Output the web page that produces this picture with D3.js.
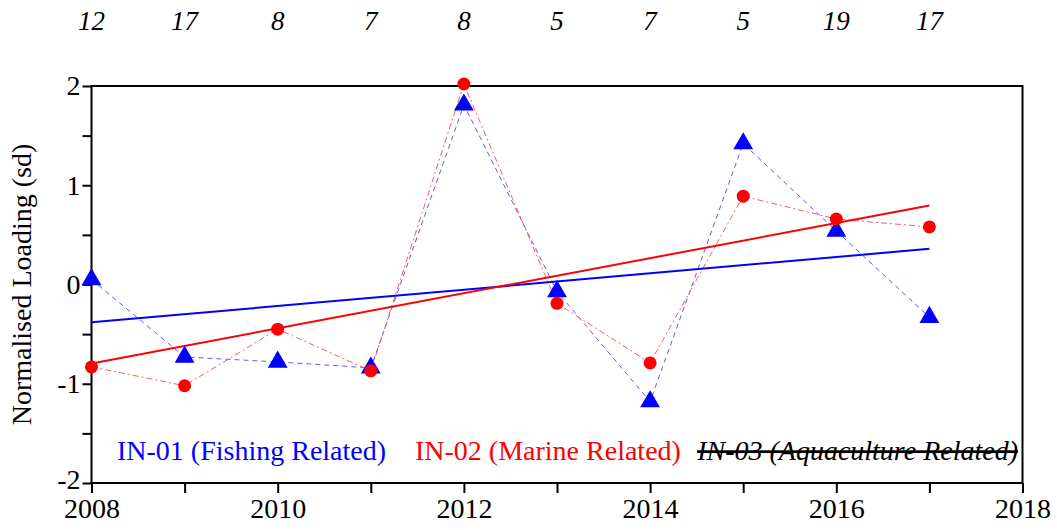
<!DOCTYPE html>
<html><head><meta charset="utf-8">
<script src="https://cdn.jsdelivr.net/npm/d3@7"></script>
<style>body{margin:0;background:#fff}svg{display:block}</style>
</head><body>
<script>
const years = [2008,2009,2010,2011,2012,2013,2014,2015,2016,2017];
const topCounts = ["12","17","8","7","8","5","7","5","19","17"];
const in01 = [0.05,-0.73,-0.78,-0.84,1.81,-0.07,-1.18,1.42,0.54,-0.33];
const in02 = [-0.83,-1.02,-0.45,-0.87,2.02,-0.19,-0.79,0.89,0.66,0.58];
const xTickLabels = [2008,2010,2012,2014,2016,2018];
const yTickLabels = [-2,-1,0,1,2];
const legendLabels = ["IN-01 (Fishing Related)","IN-02 (Marine Related)","IN-03 (Aquaculture Related)"];

const W=1057,H=530;
const L=91.5,R=1022.5,T=86,B=483;
const svg=d3.select("body").append("svg").attr("width",W).attr("height",H);
const x=d3.scaleLinear().domain([2008,2018]).range([L,R]);
const y=d3.scaleLinear().domain([-2,2]).range([B,T]);
const font="'Liberation Serif','Times New Roman',serif";
const FS=28;

// frame
svg.append("rect").attr("x",L).attr("y",T).attr("width",R-L).attr("height",B-T)
  .attr("fill","none").attr("stroke","#000").attr("stroke-width",2);

// y axis
const yAxis=d3.axisLeft(y).tickValues(d3.range(-2,2.01,0.5)).tickSize(9).tickPadding(2)
  .tickFormat(d=>yTickLabels.includes(d)?String(d):"");
const gy=svg.append("g").attr("transform",`translate(${L},0)`).call(yAxis);
gy.select(".domain").remove();
gy.selectAll("line").attr("stroke","#000").attr("stroke-width",2);
gy.selectAll("text").attr("font-family",font).attr("font-size",FS).attr("fill","#000")
  .attr("dy",d=>d===-2?"0.2em":"0.32em");

// x axis
const xAxis=d3.axisBottom(x).tickValues(d3.range(2008,2019,1)).tickSize(10).tickPadding(5)
  .tickFormat(d=>xTickLabels.includes(d)?String(d):"");
const gx=svg.append("g").attr("transform",`translate(0,${B})`).call(xAxis);
gx.select(".domain").remove();
gx.selectAll("line").attr("stroke","#000").attr("stroke-width",2);
gx.selectAll("text").attr("font-family",font).attr("font-size",FS).attr("fill","#000");

// top counts
svg.append("g").selectAll("text").data(years).join("text")
  .attr("x",d=>x(d)).attr("y",30).attr("text-anchor","middle")
  .attr("font-family",font).attr("font-style","italic").attr("font-size",27)
  .text((d,i)=>topCounts[i]);

// y label
svg.append("text").attr("transform",`translate(31,${(T+B)/2}) rotate(-90)`)
  .attr("text-anchor","middle").attr("font-family",font).attr("font-size",FS)
  .text("Normalised Loading (sd)");

// regression
function fit(vals){
  const n=vals.length, mx=d3.mean(years), my=d3.mean(vals);
  let sxy=0,sxx=0; years.forEach((yr,i)=>{sxy+=(yr-mx)*(vals[i]-my);sxx+=(yr-mx)**2;});
  const b=sxy/sxx,a=my-b*mx; return [years[0],years[n-1]].map(v=>[v,a+b*v]);
}
const line=d3.line().x(d=>x(d[0])).y(d=>y(d[1]));
const p1=years.map((d,i)=>[d,in01[i]]), p2=years.map((d,i)=>[d,in02[i]]);

svg.append("path").attr("d",line(p1)).attr("fill","none").attr("stroke","#5a5aff")
  .attr("stroke-width",1).attr("stroke-dasharray","5,4");
svg.append("path").attr("d",line(p2)).attr("fill","none").attr("stroke","#ff5a5a")
  .attr("stroke-width",1).attr("stroke-dasharray","6,3,2,3");

svg.append("path").attr("d",line(fit(in01))).attr("fill","none").attr("stroke","#0000ff").attr("stroke-width",2);
svg.append("path").attr("d",line(fit(in02))).attr("fill","none").attr("stroke","#ff0000").attr("stroke-width",2);

// markers
svg.append("g").selectAll("path").data(p1).join("path")
  .attr("transform",d=>`translate(${x(d[0])},${y(d[1])})`)
  .attr("d",d3.symbol(d3.symbolTriangle,170)).attr("fill","#0000ff");
svg.append("g").selectAll("circle").data(p2).join("circle")
  .attr("cx",d=>x(d[0])).attr("cy",d=>y(d[1])).attr("r",6.5).attr("fill","#ff0000");

// legend texts
const lg=svg.append("g").attr("font-family",font).attr("font-size",FS);
lg.append("text").attr("x",117).attr("y",460).attr("fill","#0000ff").text(legendLabels[0]);
lg.append("text").attr("x",415).attr("y",460).attr("fill","#ff0000").text(legendLabels[1]);
lg.append("text").attr("x",1018).attr("y",460).attr("text-anchor","end").attr("fill","#000")
  .attr("font-style","italic").attr("text-decoration","line-through").text(legendLabels[2]);
</script>
</body></html>
